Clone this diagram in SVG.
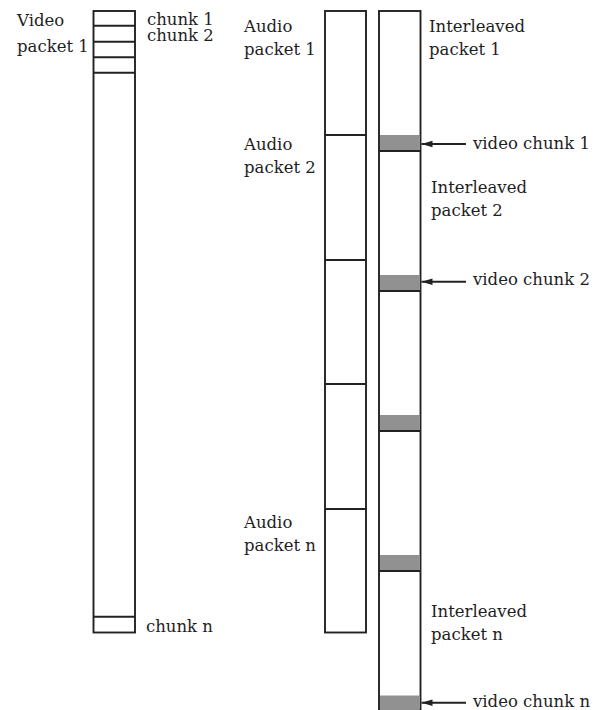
<svg xmlns="http://www.w3.org/2000/svg" width="600" height="710" viewBox="0 0 600 710">
<style>
.box{fill:#fff;stroke:#222;stroke-width:1.9}
.ln{stroke:#222;stroke-width:1.9;fill:none}
.g{fill:#919191;stroke:none}
text{font-family:"DejaVu Serif","Liberation Serif",serif;font-size:16.5px;fill:#1e1e1e}
</style>
<defs>
<marker id="ah" markerWidth="12" markerHeight="8" refX="11" refY="4" orient="auto" markerUnits="userSpaceOnUse">
<path d="M0,0.8 L11,4 L0,7.2 Z" fill="#222"/>
</marker>
</defs>
<g id="video">
<rect class="box" x="93.5" y="11" width="41.5" height="621.5"/>
<line class="ln" x1="93.5" y1="25.7" x2="135" y2="25.7"/>
<line class="ln" x1="93.5" y1="41.7" x2="135" y2="41.7"/>
<line class="ln" x1="93.5" y1="57.3" x2="135" y2="57.3"/>
<line class="ln" x1="93.5" y1="72.7" x2="135" y2="72.7"/>
<line class="ln" x1="93.5" y1="616.7" x2="135" y2="616.7"/>
<text x="17" y="26">Video</text>
<text x="17" y="52">packet 1</text>
<text x="147" y="24.5">chunk 1</text>
<text x="147" y="40.5">chunk 2</text>
<text x="146" y="632">chunk n</text>
</g>
<g id="audio">
<rect class="box" x="325" y="11" width="41" height="621.5"/>
<line class="ln" x1="325" y1="135" x2="366" y2="135"/>
<line class="ln" x1="325" y1="260" x2="366" y2="260"/>
<line class="ln" x1="325" y1="384" x2="366" y2="384"/>
<line class="ln" x1="325" y1="509" x2="366" y2="509"/>
<text x="244" y="32">Audio</text>
<text x="244" y="55">packet 1</text>
<text x="244" y="150">Audio</text>
<text x="244" y="173">packet 2</text>
<text x="244" y="528">Audio</text>
<text x="244" y="551">packet n</text>
</g>
<g id="interleaved">
<rect class="box" x="379" y="11" width="41.5" height="699"/>
<rect class="g" x="380" y="135" width="39.5" height="16"/>
<rect class="g" x="380" y="275" width="39.5" height="16"/>
<rect class="g" x="380" y="415" width="39.5" height="16"/>
<rect class="g" x="380" y="555" width="39.5" height="16"/>
<rect class="g" x="380" y="695.5" width="39.5" height="14.5"/>
<line class="ln" x1="379" y1="151" x2="420.5" y2="151"/>
<line class="ln" x1="379" y1="291" x2="420.5" y2="291"/>
<line class="ln" x1="379" y1="431" x2="420.5" y2="431"/>
<line class="ln" x1="379" y1="571" x2="420.5" y2="571"/>
<text x="429" y="32">Interleaved</text>
<text x="429" y="55">packet 1</text>
<text x="431" y="193">Interleaved</text>
<text x="431" y="216">packet 2</text>
<text x="431" y="617">Interleaved</text>
<text x="431" y="640">packet n</text>
<text x="473" y="149">video chunk 1</text>
<text x="473" y="285">video chunk 2</text>
<text x="473" y="707">video chunk n</text>
</g>
<g id="connectors">
<line class="ln" x1="466" y1="144" x2="421.5" y2="144" marker-end="url(#ah)"/>
<line class="ln" x1="466" y1="281.7" x2="421.5" y2="281.7" marker-end="url(#ah)"/>
<line class="ln" x1="466" y1="702.7" x2="421.5" y2="702.7" marker-end="url(#ah)"/>
</g>
</svg>
